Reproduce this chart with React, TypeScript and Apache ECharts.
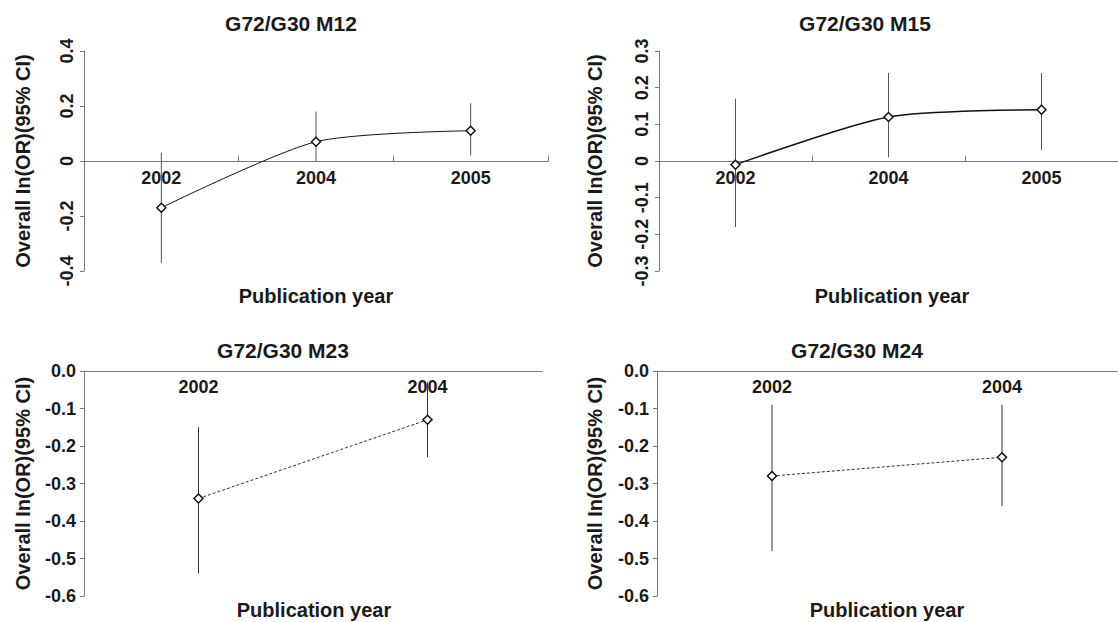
import React, { useEffect, useRef } from "react";
import * as echarts from "echarts";

const FONT = '"Liberation Sans", Arial, Helvetica, sans-serif';

// G72/G30 M12
const m12Years = ["2002", "2004", "2005"];
const m12Or = [-0.17, 0.07, 0.11];
const m12Lo = [-0.37, 0.0, 0.02];
const m12Hi = [0.03, 0.18, 0.21];

// G72/G30 M15
const m15Years = ["2002", "2004", "2005"];
const m15Or = [-0.01, 0.12, 0.14];
const m15Lo = [-0.18, 0.01, 0.03];
const m15Hi = [0.17, 0.24, 0.24];

// G72/G30 M23
const m23Years = ["2002", "2004"];
const m23Or = [-0.34, -0.13];
const m23Lo = [-0.54, -0.23];
const m23Hi = [-0.15, -0.03];

// G72/G30 M24
const m24Years = ["2002", "2004"];
const m24Or = [-0.28, -0.23];
const m24Lo = [-0.48, -0.36];
const m24Hi = [-0.09, -0.09];

const panelTitles = ["G72/G30 M12", "G72/G30 M15", "G72/G30 M23", "G72/G30 M24"];
const xName = "Publication year";
const yName = "Overall In(OR)(95% CI)";

const AXIS = "#777";
const TEXT = "#1a1a1a";

function fmt(v: number, zeroPlain: boolean) {
  if (Math.abs(v) < 1e-9) return zeroPlain ? "0" : "0.0";
  return v.toFixed(1);
}

export default function App() {
  const ref = useRef<HTMLDivElement>(null);
  useEffect(() => {
    document.body.style.margin = "0";
    const chart = echarts.init(ref.current!, null, { renderer: "svg" });

    const grids = [
      { left: 84, top: 51, width: 464, height: 220 },
      { left: 659, top: 51, width: 470, height: 220 },
      { left: 84, top: 371, width: 458, height: 225 },
      { left: 657, top: 371, width: 460, height: 225 },
    ];
    const years = [m12Years, m15Years, m23Years, m24Years];
    const ors = [m12Or, m15Or, m23Or, m24Or];
    const los = [m12Lo, m15Lo, m23Lo, m24Lo];
    const his = [m12Hi, m15Hi, m23Hi, m24Hi];
    const yRanges = [
      { min: -0.4, max: 0.4, interval: 0.2 },
      { min: -0.3, max: 0.3, interval: 0.1 },
      { min: -0.6, max: 0, interval: 0.1 },
      { min: -0.6, max: 0, interval: 0.1 },
    ];
    const nameGaps = [51, 54, 51, 52];

    const xAxis = years.map((cats, i) => {
      const top = i < 2;
      return {
        type: "category",
        gridIndex: i,
        data: cats,
        position: top ? "bottom" : "top",
        offset: top ? -110 : 0,
        boundaryGap: true,
        axisLine: { onZero: false, lineStyle: { color: AXIS, width: 1 } },
        axisTick: { show: top, inside: true, length: 5, lineStyle: { color: AXIS } },
        axisLabel: {
          inside: !top,
          margin: top ? 8 : 7,
          color: TEXT,
          fontFamily: FONT,
          fontWeight: "bold",
          fontSize: 18,
        },
        splitLine: { show: false },
      };
    });

    const yAxis = yRanges.map((r, i) => {
      const top = i < 2;
      return {
        type: "value",
        gridIndex: i,
        min: r.min,
        max: r.max,
        interval: r.interval,
        name: yName,
        nameLocation: "middle",
        nameRotate: 90,
        nameGap: nameGaps[i],
        nameTextStyle: { color: TEXT, fontFamily: FONT, fontWeight: "bold", fontSize: 20 },
        axisLine: { show: true, onZero: false, lineStyle: { color: AXIS, width: 1 } },
        axisTick: { show: true, length: 4, lineStyle: { color: AXIS } },
        axisLabel: {
          rotate: top ? 90 : 0,
          margin: 8,
          color: TEXT,
          fontFamily: FONT,
          fontWeight: "bold",
          fontSize: 18,
          formatter: (v: number) => fmt(v, top),
        },
        splitLine: { show: false },
      };
    });

    const series: any[] = [];
    for (let i = 0; i < 4; i++) {
      const top = i < 2;
      series.push({
        type: "custom",
        xAxisIndex: i,
        yAxisIndex: i,
        z: 1,
        encode: { x: 0, y: [1, 2] },
        data: years[i].map((_, k) => [k, los[i][k], his[i][k]]),
        renderItem: (params: any, api: any) => {
          const x = api.value(0);
          const a = api.coord([x, api.value(1)]);
          const b = api.coord([x, api.value(2)]);
          return {
            type: "line",
            shape: { x1: a[0], y1: a[1], x2: b[0], y2: b[1] },
            style: { stroke: top ? "#555" : "#333", lineWidth: 1 },
          };
        },
      });
      series.push({
        type: "line",
        xAxisIndex: i,
        yAxisIndex: i,
        z: 3,
        data: ors[i],
        smooth: top ? 0.25 : false,
        symbol: "diamond",
        symbolSize: 9,
        itemStyle: { color: "#fff", borderColor: "#111", borderWidth: 1.5 },
        lineStyle: top
          ? { color: "#111", width: i === 0 ? 1 : 1.5, type: "solid" }
          : { color: "#333", width: 1, type: [3, 2] },
      });
    }

    const titlePos = [
      [291, 23],
      [865, 23],
      [283, 350],
      [857, 350],
    ];
    const xNamePos = [
      [316, 296],
      [892, 296],
      [314, 610],
      [887, 610],
    ];
    const graphic: any[] = [];
    panelTitles.forEach((t, i) => {
      graphic.push({
        type: "text",
        x: titlePos[i][0],
        y: titlePos[i][1],
        style: {
          text: t,
          align: "center",
          verticalAlign: "middle",
          fill: TEXT,
          font: `bold 21px ${FONT}`,
        },
      });
      graphic.push({
        type: "text",
        x: xNamePos[i][0],
        y: xNamePos[i][1],
        style: {
          text: xName,
          align: "center",
          verticalAlign: "middle",
          fill: TEXT,
          font: `bold 20px ${FONT}`,
        },
      });
    });

    chart.setOption({
      animation: false,
      backgroundColor: "#fff",
      grid: grids,
      xAxis,
      yAxis,
      series,
      graphic,
    });
    return () => chart.dispose();
  }, []);
  return (
    <div
      ref={ref}
      style={{ position: "absolute", left: 0, top: 0, width: 1118, height: 622 }}
    />
  );
}
